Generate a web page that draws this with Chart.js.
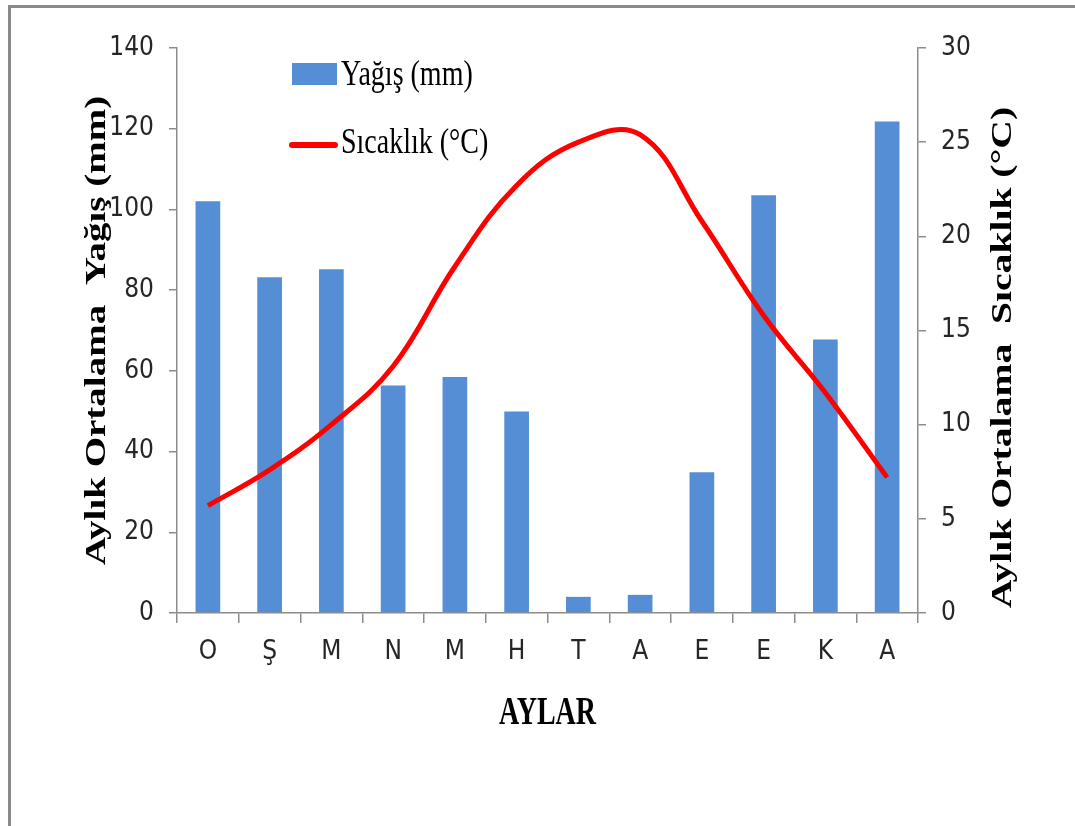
<!DOCTYPE html>
<html>
<head>
<meta charset="utf-8">
<script src="https://cdn.jsdelivr.net/npm/chart.js@4/dist/chart.umd.min.js"></script>
<style>
  body { margin: 0; background: #fff; }
  #present { position: relative; width: 1075px; height: 826px; }
  #frame { position: absolute; left: 8px; top: 5px; right: 0; bottom: 0;
           border-top: 3px solid #8a8a8a; border-left: 3px solid #8a8a8a; }
</style>
</head>
<body>
<div id="present">
  <div id="frame"></div>
  <canvas id="myChart"></canvas>
</div>
<script>
// aylar (months)
const months = ['O', 'Ş', 'M', 'N', 'M', 'H', 'T', 'A', 'E', 'E', 'K', 'A'];
// Aylık ortalama yağış (mm)
const rain = [102, 83.2, 85.2, 56.4, 58.5, 49.9, 4.0, 4.5, 34.9, 103.5, 67.8, 121.8];
// Aylık ortalama sıcaklık (°C)
const temp = [5.7, 7.6, 10.0, 13.1, 18.4, 22.7, 25.0, 25.4, 20.8, 15.8, 11.7, 7.2];

const barColor = '#558ED5';
const lineColor = '#FF0000';
const axisColor = '#8c8c8c';
const tickFont = { family: "'Liberation Sans Narrow', 'DejaVu Sans Condensed', sans-serif", size: 26 };
const serif = "'Liberation Serif', 'Times New Roman', serif";

// stretched text, the original picture is taller than wide
function stretchedText(ctx, text, x, y, rot, sx, sy, font) {
  ctx.save();
  ctx.translate(x, y);
  ctx.rotate(rot);
  ctx.scale(sx, sy);
  ctx.font = font;
  ctx.fillText(text, 0, 0);
  ctx.restore();
}

const decorPlugin = {
  id: 'decor',
  afterDraw(chart) {
    const ctx = chart.ctx;
    const area = chart.chartArea;
    ctx.save();
    ctx.fillStyle = '#000';

    // axis titles
    ctx.textAlign = 'center';
    ctx.textBaseline = 'middle';
    const midY = (area.top + area.bottom) / 2;
    stretchedText(ctx, 'Aylık Ortalama  Yağış (mm)', 97, midY, -Math.PI / 2, 1.3, 1, 'bold 30px ' + serif);
    stretchedText(ctx, 'Aylık Ortalama  Sıcaklık (°C)', 1003, midY + 27, -Math.PI / 2, 1.32, 1, 'bold 30px ' + serif);
    ctx.textBaseline = 'alphabetic';
    stretchedText(ctx, 'AYLAR', (area.left + area.right) / 2, 724, 0, 1, 1.4, 'bold 28px ' + serif);

    // legend
    ctx.fillStyle = barColor;
    ctx.fillRect(292, 63, 45, 22);
    ctx.strokeStyle = lineColor;
    ctx.lineWidth = 6;
    ctx.lineCap = 'round';
    ctx.beginPath();
    ctx.moveTo(292, 145);
    ctx.lineTo(335, 145);
    ctx.stroke();
    ctx.fillStyle = '#000';
    ctx.textAlign = 'left';
    stretchedText(ctx, 'Yağış (mm)', 341, 85, 0, 1, 1.25, '28px ' + serif);
    stretchedText(ctx, 'Sıcaklık (°C)', 341, 153, 0, 1, 1.25, '28px ' + serif);
    ctx.restore();
  }
};

var ctx = document.getElementById('myChart').getContext('2d');
var myChart = new Chart(ctx, {
  type: 'bar',
  data: {
    labels: months,
    datasets: [
      {
        type: 'line',
        label: 'Sıcaklık (°C)',
        data: temp,
        yAxisID: 'y1',
        borderColor: lineColor,
        backgroundColor: lineColor,
        borderWidth: 5,
        tension: 0.4,
        pointRadius: 0,
        order: 0
      },
      {
        label: 'Yağış (mm)',
        data: rain,
        yAxisID: 'y',
        backgroundColor: barColor,
        categoryPercentage: 1,
        barPercentage: 0.4,
        order: 1
      }
    ]
  },
  options: {
    responsive: true,
    maintainAspectRatio: false,
    animation: false,
    layout: { padding: { top: 48, left: 0, right: 0, bottom: 0 } },
    plugins: {
      legend: { display: false },
      tooltip: { enabled: false }
    },
    scales: {
      x: {
        grid: { drawOnChartArea: false, color: axisColor, tickLength: 10, lineWidth: 1.5 },
        border: { color: axisColor, width: 1.5 },
        ticks: { color: '#262626', font: tickFont, padding: 14 },
        afterFit: function(scale) { scale.height = 213; }
      },
      y: {
        position: 'left',
        min: 0,
        max: 140,
        grid: { drawOnChartArea: false, color: axisColor, tickLength: 8, lineWidth: 1.5 },
        border: { color: axisColor, width: 1.5 },
        ticks: { stepSize: 20, color: '#262626', font: tickFont, padding: 15 },
        afterFit: function(scale) { scale.width = 177; }
      },
      y1: {
        position: 'right',
        min: 0,
        max: 30,
        grid: { drawOnChartArea: false, color: axisColor, tickLength: 8, lineWidth: 1.5 },
        border: { color: axisColor, width: 1.5 },
        ticks: { stepSize: 5, color: '#262626', font: tickFont, padding: 15 },
        afterFit: function(scale) { scale.width = 157; }
      }
    }
  },
  plugins: [decorPlugin]
});
</script>
</body>
</html>
